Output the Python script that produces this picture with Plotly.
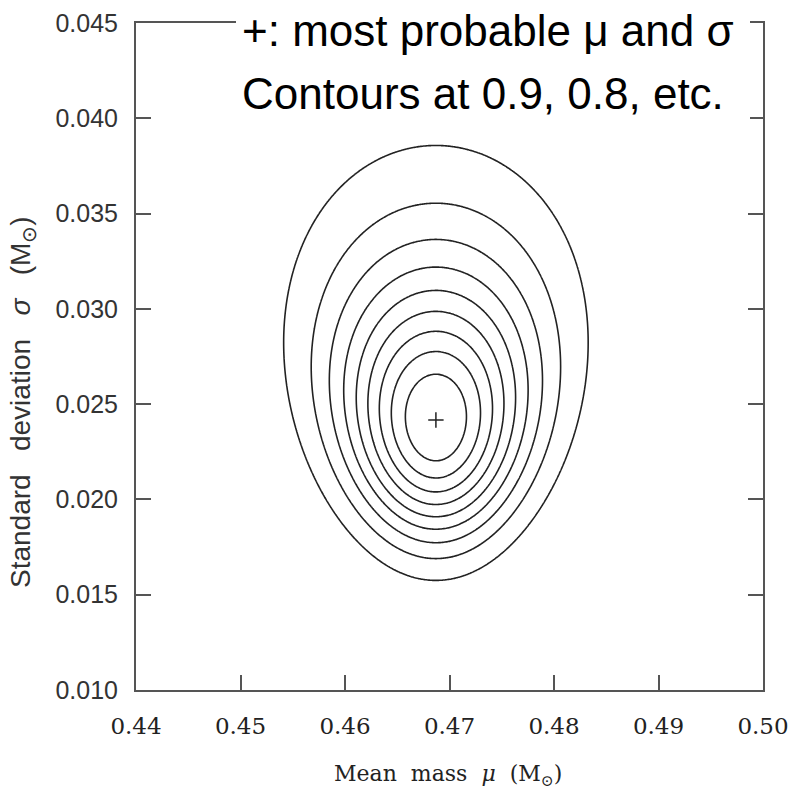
import numpy as np
import plotly.graph_objects as go

# --- values ---
x_ticks = [0.44, 0.45, 0.46, 0.47, 0.48, 0.49, 0.50]
x_tick_labels = ["0.44", "0.45", "0.46", "0.47", "0.48", "0.49", "0.50"]
y_ticks = [0.010, 0.015, 0.020, 0.025, 0.030, 0.035, 0.040, 0.045]
y_tick_labels = ["0.010", "0.015", "0.020", "0.025", "0.030", "0.035", "0.040", "0.045"]

# most probable mean mass and standard deviation (the "+")
best_mu = [0.4687]
best_sigma = [0.02417]

# likelihood model parameters estimated from the contour shapes
n_stars = 17.5          # effective sample size
meas_err = 0.011        # typical measurement error (M_sun)

# contour levels, relative to the maximum likelihood
contour_levels = [0.1, 0.2, 0.3, 0.4, 0.5, 0.6, 0.7, 0.8, 0.9]

# --- likelihood surface ---
mu_grid = np.linspace(0.44, 0.50, 500)
sig_grid = np.linspace(0.0101, 0.045, 500)
MU, SG = np.meshgrid(mu_grid, sig_grid)
T2 = SG**2 + meas_err**2
S2 = best_sigma[0]**2 + meas_err**2
logL = -0.5 * n_stars * np.log(T2) - n_stars * (S2 + (MU - best_mu[0])**2) / (2 * T2)
logLmax = -0.5 * n_stars * np.log(S2) - n_stars / 2
Z = np.exp(logL - logLmax)

fig = go.Figure()
fig.add_trace(go.Contour(
    x=mu_grid, y=sig_grid, z=Z,
    contours=dict(coloring="lines", start=contour_levels[0], end=contour_levels[-1],
                  size=contour_levels[1] - contour_levels[0]),
    colorscale=[[0, "#222222"], [1, "#222222"]],
    line=dict(width=1.6),
    showscale=False, hoverinfo="skip",
))
fig.add_trace(go.Scatter(
    x=best_mu, y=best_sigma, mode="markers",
    marker=dict(symbol="cross-thin", size=11, line=dict(width=1.5, color="#222222")),
    showlegend=False,
))

axis_common = dict(
    showline=True, linecolor="#555555", linewidth=2, mirror="ticks",
    ticks="inside", ticklen=15, tickwidth=2, tickcolor="#555555",
    showgrid=False, zeroline=False, automargin=False,
)
fig.update_xaxes(
    range=[0.44, 0.50], tickvals=x_ticks, ticktext=x_tick_labels,
    tickfont=dict(family="DejaVu Serif", size=23, color="#222222"),
    ticklabelstandoff=14, **axis_common,
)
fig.update_yaxes(
    range=[0.010, 0.045], tickvals=y_ticks, ticktext=y_tick_labels,
    tickfont=dict(family="Liberation Sans, Arial", size=25, color="#333333"),
    ticklabelstandoff=11, **axis_common,
)

L, R, T, B = 136, 27, 23, 100
W = H = 790
pw, ph = W - L - R, H - T - B
def px(x):
    return (x - L) / pw
def py(y):
    return (H - B - y) / ph

# white box hiding the top frame behind the annotation
fig.add_shape(type="rect", xref="paper", yref="paper",
              x0=px(236), x1=px(750), y0=py(121), y1=py(-5),
              fillcolor="white", line=dict(width=0), layer="above")

fig.add_annotation(xref="paper", yref="paper", x=px(240), y=py(31),
                   xanchor="left", yanchor="middle", showarrow=False,
                   text="+: most probable μ and σ",
                   font=dict(family="Liberation Sans, Arial", size=44, color="#000000"))
fig.add_annotation(xref="paper", yref="paper", x=px(240), y=py(94),
                   xanchor="left", yanchor="middle", showarrow=False,
                   text="Contours at 0.9, 0.8, etc.",
                   font=dict(family="Liberation Sans, Arial", size=44, color="#000000"))

# axis titles
fig.add_annotation(xref="paper", yref="paper", x=px(448), y=py(775),
                   xanchor="center", yanchor="middle", showarrow=False,
                   text="Mean  mass  <i>μ</i>  (M<sub>⊙</sub>)",
                   font=dict(family="DejaVu Serif", size=22, color="#222222"))
fig.add_annotation(xref="paper", yref="paper", x=px(22), y=py(402),
                   xanchor="center", yanchor="middle", showarrow=False, textangle=-90,
                   text="Standard   deviation   <i>σ</i>   (M<sub>⊙</sub>)",
                   font=dict(family="Liberation Sans, Arial", size=28, color="#333333"))

fig.update_layout(
    width=W, height=H, margin=dict(l=L, r=R, t=T, b=B),
    paper_bgcolor="white", plot_bgcolor="white", showlegend=False,
)
fig.write_html("out.html")
